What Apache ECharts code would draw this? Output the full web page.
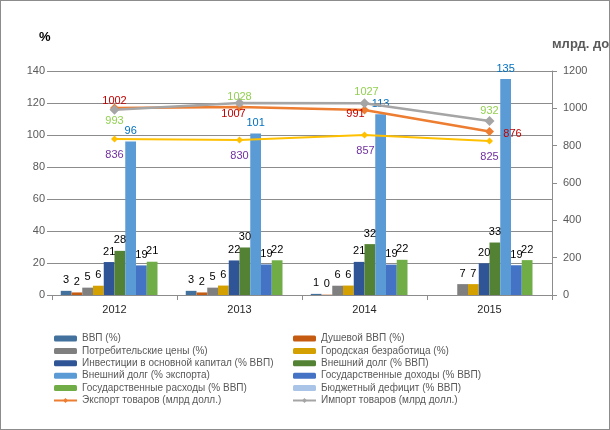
<!DOCTYPE html>
<html>
<head>
<meta charset="utf-8">
<script src="https://cdn.jsdelivr.net/npm/echarts@6/dist/echarts.min.js"></script>
<style>
  html, body { margin: 0; padding: 0; background: #fff; }
  #main { width: 608px; height: 428px; border: 1px solid #8c8c8c; }
</style>
</head>
<body>
<div id="main"></div>
<script>
// данные
const years = ['2012', '2013', '2014', '2015'];
const gdp = [2.6, 2.6, 0.7, null];
const gdpPerCapita = [1.6, 1.6, 0.2, null];
const consumerPrices = [4.6, 4.6, 5.8, 6.8];
const unemployment = [5.8, 5.9, 5.9, 6.8];
const investment = [20.6, 21.6, 20.7, 19.8];
const extDebtGdp = [27.6, 29.7, 31.8, 32.8];
const extDebtExport = [96, 101, 113, 135];
const govRevenue = [18.5, 19.1, 19.0, 18.6];
const govSpending = [20.8, 21.7, 22.0, 21.8];
const budgetDeficit = [null, null, null, null];
const exportGoods = [1002, 1007, 991, 876];
const importGoods = [993, 1028, 1027, 932];
const otherLine = [836, 830, 857, 825];

const FONT = 'Liberation Sans';
const AXIS_GREY = '#595959';
const GRID_GREY = '#8c8c8c';

const chart = echarts.init(document.getElementById('main'), null, {renderer: 'canvas'});

function barSeries(name, data, color, labelColor) {
  return {
    name: name,
    type: 'bar',
    yAxisIndex: 0,
    data: data,
    barGap: '0%',
    barCategoryGap: '14%',
    itemStyle: {color: color},
    label: {
      show: true,
      position: 'top',
      distance: 5,
      color: labelColor || '#000',
      fontFamily: FONT,
      fontSize: 11,
      formatter: p => p.value == null ? '' : Math.round(p.value)
    }
  };
}

// смещения подписей точек относительно маркера
function lineSeries(name, data, color, labelColor, offsets, size, width) {
  return {
    name: name,
    type: 'line',
    yAxisIndex: 1,
    z: 5,
    symbol: 'diamond',
    symbolSize: size,
    lineStyle: {color: color, width: width},
    itemStyle: {color: color},
    data: data.map((v, i) => ({
      value: v,
      label: {offset: offsets[i]}
    })),
    label: {
      show: true,
      position: 'inside',
      color: labelColor,
      fontFamily: FONT,
      fontSize: 11
    }
  };
}

const leftNames = ['ВВП (%)', 'Потребительские цены (%)', 'Инвестиции в основной капитал (% ВВП)',
  'Внешний долг (% экспорта)', 'Государственные расходы (% ВВП)', 'Экспорт товаров (млрд долл.)'];
const rightNames = ['Душевой ВВП (%)', 'Городская безработица (%)', 'Внешний долг (% ВВП)',
  'Государственные доходы (% ВВП)', 'Бюджетный дефицит (% ВВП)', 'Импорт товаров (млрд долл.)'];

function legend(left, names) {
  return {
    left: left,
    top: 332,
    padding: 0,
    orient: 'vertical',
    itemWidth: 23,
    itemHeight: 6,
    itemGap: 1.4,
    itemTextGap: 3,
    data: names,
    textStyle: {fontFamily: FONT, fontSize: 10, color: AXIS_GREY, lineHeight: 11}
  };
}

option = {
  animation: false,
  backgroundColor: '#fff',
  grid: {left: 51, right: 57, top: 70, bottom: 134},
  legend: [legend(52, leftNames), legend(291, rightNames)],
  graphic: [
    {type: 'text', left: 38, top: 30, style: {text: '%', font: 'bold 13px ' + FONT, fill: '#000'}},
    {type: 'text', left: 551, top: 37, style: {text: 'млрд. долл.', font: 'bold 13px ' + FONT, fill: AXIS_GREY}}
  ],
  xAxis: {
    type: 'category',
    data: years,
    axisLine: {lineStyle: {color: GRID_GREY}},
    axisTick: {show: true, length: 5, lineStyle: {color: GRID_GREY}},
    axisLabel: {color: '#262626', fontFamily: FONT, fontSize: 11, margin: 9}
  },
  yAxis: [
    {
      type: 'value', min: 0, max: 140, interval: 20,
      axisLine: {show: false},
      axisTick: {show: true, length: 5, lineStyle: {color: GRID_GREY}},
      splitLine: {lineStyle: {color: GRID_GREY}},
      axisLabel: {color: AXIS_GREY, fontFamily: FONT, fontSize: 11, margin: 7}
    },
    {
      type: 'value', min: 0, max: 1200, interval: 200,
      axisLine: {show: true, lineStyle: {color: GRID_GREY}},
      axisTick: {show: true, length: 5, lineStyle: {color: GRID_GREY}},
      splitLine: {show: false},
      axisLabel: {color: AXIS_GREY, fontFamily: FONT, fontSize: 11, margin: 11,
        formatter: v => String(v)}
    }
  ],
  series: [
    barSeries('ВВП (%)', gdp, '#41719c'),
    barSeries('Душевой ВВП (%)', gdpPerCapita, '#c55a11'),
    barSeries('Потребительские цены (%)', consumerPrices, '#7f7f7f'),
    barSeries('Городская безработица (%)', unemployment, '#d4a000'),
    barSeries('Инвестиции в основной капитал (% ВВП)', investment, '#2f5597'),
    barSeries('Внешний долг (% ВВП)', extDebtGdp, '#548235'),
    barSeries('Внешний долг (% экспорта)', extDebtExport, '#5b9bd5', '#0070c0'),
    barSeries('Государственные доходы (% ВВП)', govRevenue, '#4472c4'),
    barSeries('Государственные расходы (% ВВП)', govSpending, '#70ad47'),
    barSeries('Бюджетный дефицит (% ВВП)', budgetDeficit, '#a9c4e6'),
    lineSeries('Экспорт товаров (млрд долл.)', exportGoods, '#ed7d31', '#c00000',
      [[0, -7], [-6, 7], [-9, 4], [23, 2]], 9, 2.5),
    lineSeries('Импорт товаров (млрд долл.)', importGoods, '#a5a5a5', '#92d050',
      [[0, 11], [0, -6], [2, -11], [0, -10]], 10, 2.5),
    lineSeries('Прочее', otherLine, '#ffc000', '#7030a0',
      [[0, 16], [0, 16], [1, 16], [0, 16]], 7, 2)
  ]
};

chart.setOption(option);
</script>
</body>
</html>
